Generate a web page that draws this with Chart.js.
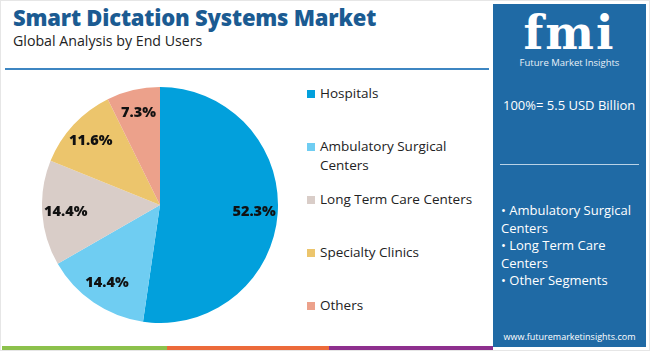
<!DOCTYPE html>
<html>
<head>
<meta charset="utf-8">
<script src="https://cdn.jsdelivr.net/npm/chart.js@4"></script>
<style>
  body { margin: 0; width: 650px; height: 351px; background: #fff; font-family: "Open Sans", sans-serif; overflow: hidden; position: relative; }
  .frame { position: absolute; left: 0; top: 0; width: 648px; height: 349px; border: 1px solid #e6e6e6; }
  h1 { position: absolute; left: 13px; top: 2px; margin: 0; font-size: 22px; font-weight: 800; color: #1b5b92; letter-spacing: -0.2px; }
  h2 { position: absolute; left: 13px; top: 31px; margin: 0; font-size: 14.2px; font-weight: 400; color: #222; }
  .rule { position: absolute; left: 5px; top: 68px; width: 484px; height: 2px; background: #3d86c2; }
  #chartBox { position: absolute; left: 42px; top: 87px; width: 236px; height: 236px; }
  #legend { position: absolute; left: 307px; top: 84px; font-size: 13.5px; color: #222; }
  .item { position: absolute; left: 0; white-space: nowrap; line-height: 19px; }
  .sw { position: absolute; left: 0; top: 6px; width: 8px; height: 8px; }
  .lt { position: absolute; left: 13px; top: 0; }
  .panel { position: absolute; left: 493px; top: 4px; width: 153px; height: 343px; background: #1f6aa5; color: #fff; }
  .logo { position: absolute; left: 0; width: 153px; top: 2px; text-align: center; font-family: "DejaVu Serif", serif; font-weight: 700; font-size: 46px; letter-spacing: 2px; color: #fff; }
  .logosub { position: absolute; left: 0; width: 153px; top: 52px; text-align: center; font-size: 9.5px; color: #e8f1f8; }
  .total { position: absolute; left: 10px; top: 92px; font-size: 13px; }
  .prule { position: absolute; left: 7px; top: 160px; width: 139px; height: 1px; background: #b9d2e6; }
  .segs { position: absolute; left: 8px; top: 198px; font-size: 13px; line-height: 17.5px; }
  .site { position: absolute; left: 0; width: 153px; top: 326px; text-align: center; font-size: 9px; }
  .stripe { position: absolute; top: 346px; height: 4px; }
</style>
</head>
<body>
<div class="frame"></div>
<h1>Smart Dictation Systems Market</h1>
<h2>Global Analysis by End Users</h2>
<div class="rule"></div>
<div id="chartBox"><canvas id="pie"></canvas></div>
<div id="legend"></div>
<div class="panel">
  <div class="logo">fmi</div>
  <div class="logosub">Future Market Insights</div>
  <div class="total">100%= 5.5 USD Billion</div>
  <div class="prule"></div>
  <div class="segs">• Ambulatory Surgical<br>Centers<br>• Long Term Care<br>Centers<br>• Other Segments</div>
  <div class="site">www.futuremarketinsights.com</div>
</div>
<div class="stripe" style="left:2px;width:165px;background:#8cc14c"></div>
<div class="stripe" style="left:167px;width:162px;background:#ec6a3a"></div>
<div class="stripe" style="left:329px;width:164px;background:#8e2f8e"></div>
<script>
const segments = ["Hospitals", "Ambulatory Surgical Centers", "Long Term Care Centers", "Specialty Clinics", "Others"];
const legendLines = [["Hospitals"], ["Ambulatory Surgical", "Centers"], ["Long Term Care Centers"], ["Specialty Clinics"], ["Others"]];
const shares = [52.3, 14.4, 14.4, 11.6, 7.3];
const sliceColors = ["#02a0dc", "#6fcdf2", "#d9cdc8", "#ecc56c", "#eca18b"];

// legend built from the same arrays
const legend = document.getElementById("legend");
legendLines.forEach((lines, i) => {
  const item = document.createElement("div");
  item.className = "item";
  item.style.top = (i * 53) + "px";
  item.innerHTML = `<span class="sw" style="background:${sliceColors[i]}"></span><span class="lt">${lines.join("<br>")}</span>`;
  legend.appendChild(item);
});

const sliceLabels = {
  id: "sliceLabels",
  afterDatasetsDraw(chart) {
    const ctx = chart.ctx;
    const meta = chart.getDatasetMeta(0);
    ctx.save();
    ctx.font = "800 14.5px 'Open Sans', sans-serif";
    ctx.fillStyle = "#111";
    ctx.textAlign = "center";
    ctx.textBaseline = "middle";
    meta.data.forEach((arc, i) => {
      const p = arc.getProps(["x", "y", "startAngle", "endAngle", "outerRadius"], true);
      const mid = (p.startAngle + p.endAngle) / 2;
      const r = p.outerRadius * 0.8;
      ctx.fillText(shares[i].toFixed(1) + "%", p.x + Math.cos(mid) * r, p.y + Math.sin(mid) * r);
    });
    ctx.restore();
  }
};

new Chart(document.getElementById("pie"), {
  type: "pie",
  data: {
    labels: segments,
    datasets: [{ data: shares, backgroundColor: sliceColors, borderWidth: 0 }]
  },
  options: {
    responsive: true,
    maintainAspectRatio: false,
    animation: false,
    layout: { padding: 0 },
    plugins: { legend: { display: false }, tooltip: { enabled: false } }
  },
  plugins: [sliceLabels]
});
</script>
</body>
</html>
